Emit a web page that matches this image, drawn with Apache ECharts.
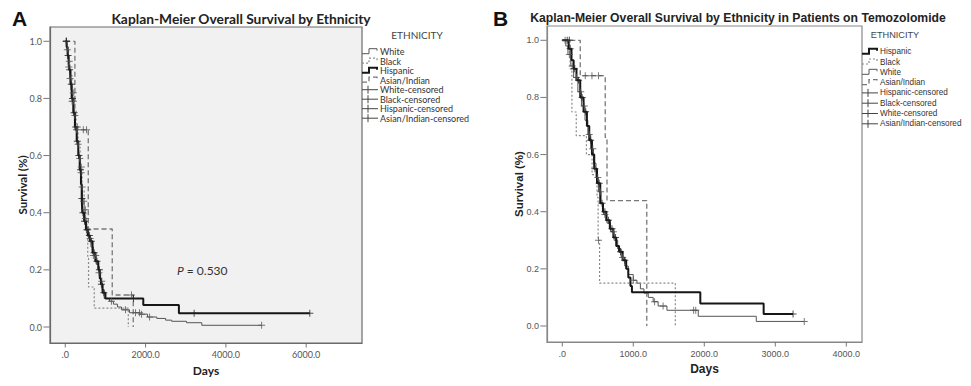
<!DOCTYPE html>
<html>
<head>
<meta charset="utf-8">
<script src="https://cdn.jsdelivr.net/npm/echarts@6/dist/echarts.min.js"></script>
<style>
  html, body { margin: 0; padding: 0; background: #fff; }
  #chart { width: 971px; height: 386px; }
</style>
</head>
<body>
<div id="chart"></div>
<script>
// ---- data ----
const survTicks = [0, 0.2, 0.4, 0.6, 0.8, 1.0];
const survLabels = ['0.0', '0.2', '0.4', '0.6', '0.8', '1.0'];

const daysTicksA = [0, 2000, 4000, 6000];
const daysLabelsA = ['.0', '2000.0', '4000.0', '6000.0'];
const daysTicksB = [0, 1000, 2000, 3000, 4000];
const daysLabelsB = ['.0', '1000.0', '2000.0', '3000.0', '4000.0'];

const legendA = ['White', 'Black', 'Hispanic', 'Asian/Indian',
  'White-censored', 'Black-censored', 'Hispanic-censored', 'Asian/Indian-censored'];
const legendB = ['Hispanic', 'Black', 'White', 'Asian/Indian',
  'Hispanic-censored', 'Black-censored', 'White-censored', 'Asian/Indian-censored'];

// panel A: [days, survival]
const hispanicA = [[0, 1], [35, 0.98], [60, 0.95], [85, 0.92], [100, 0.9], [130, 0.85], [160, 0.8],
  [200, 0.75], [241, 0.7], [285, 0.65], [324, 0.6], [360, 0.55], [391, 0.5], [410, 0.45], [424, 0.4],
  [470, 0.37], [515, 0.34], [560, 0.32], [615, 0.3], [680, 0.26], [750, 0.23], [822, 0.2], [860, 0.17],
  [889, 0.15], [930, 0.12], [1000, 0.1], [1943, 0.077], [2830, 0.048], [6090, 0.048]];
const whiteA = [[0, 1], [30, 0.97], [55, 0.94], [80, 0.91], [110, 0.87], [140, 0.83], [170, 0.79],
  [210, 0.74], [250, 0.69], [290, 0.64], [330, 0.59], [370, 0.54], [400, 0.49], [430, 0.44], [470, 0.38],
  [520, 0.34], [580, 0.31], [640, 0.28], [700, 0.25], [770, 0.22], [830, 0.19], [880, 0.16], [920, 0.13],
  [970, 0.1], [1100, 0.09], [1200, 0.08], [1300, 0.07], [1400, 0.06], [1600, 0.05], [1860, 0.045],
  [2050, 0.035], [2280, 0.03], [2500, 0.024], [2650, 0.02], [3020, 0.015], [3400, 0.006], [4890, 0.006]];
const blackA = [[0, 1], [40, 0.97], [80, 0.93], [120, 0.88], [170, 0.82], [220, 0.76], [270, 0.7],
  [320, 0.63], [370, 0.56], [420, 0.48], [470, 0.41], [510, 0.36], [540, 0.33], [560, 0.24], [580, 0.14],
  [722, 0.066], [1570, 0], [1570, 0]];
const asianA = [[0, 1], [240, 0.69], [573, 0.343], [1170, 0.112], [1693, 0], [1693, 0]];

const hispanicCensA = [30, 70, 110, 150, 180, 220, 260, 300, 340, 380, 415, 440, 480, 540, 600, 650,
  720, 790, 850, 900, 960, 1700, 3210, 6090];
const whiteCensA = [20, 50, 90, 120, 170, 200, 240, 280, 320, 360, 395, 420, 460, 500, 560, 620, 700,
  760, 840, 910, 1150, 1500, 1750, 1850, 1900, 2100, 4890];
const blackCensA = [30, 100, 200, 300, 400, 500];
const asianCensA = [450, 530, 1650];

// panel B: [days, survival]
const hispanicB = [[0, 1], [60, 1], [90, 0.97], [130, 0.93], [160, 0.9], [200, 0.86], [253, 0.8],
  [300, 0.75], [347, 0.7], [380, 0.65], [418, 0.6], [450, 0.55], [489, 0.5], [535, 0.43], [573, 0.4],
  [620, 0.37], [670, 0.34], [720, 0.31], [760, 0.28], [800, 0.26], [850, 0.23], [900, 0.2], [930, 0.17],
  [960, 0.14], [981, 0.118], [1944, 0.079], [2836, 0.042], [3250, 0.042]];
const whiteB = [[0, 1], [50, 0.98], [80, 0.95], [120, 0.91], [160, 0.87], [220, 0.82], [270, 0.77],
  [320, 0.72], [360, 0.67], [400, 0.62], [440, 0.57], [475, 0.52], [510, 0.47], [545, 0.43], [580, 0.39],
  [630, 0.36], [680, 0.33], [730, 0.3], [780, 0.27], [830, 0.24], [880, 0.21], [930, 0.18], [1000, 0.16],
  [1052, 0.15], [1100, 0.13], [1150, 0.115], [1211, 0.1], [1280, 0.085], [1350, 0.07], [1474, 0.055],
  [1915, 0.034], [2732, 0.016], [3408, 0.016]];
const blackB = [[0, 1], [80, 1], [110, 0.9], [136, 0.749], [197, 0.666], [340, 0.6], [420, 0.53],
  [490, 0.45], [505, 0.3], [525, 0.15], [1592, 0], [1592, 0]];
const asianB = [[0, 1], [253, 0.876], [605, 0.66], [630, 0.439], [1190, 0], [1190, 0]];

const hispanicCensB = [70, 110, 170, 230, 280, 330, 400, 460, 520, 560, 600, 650, 700, 750, 820, 880, 3250];
const whiteCensB = [40, 100, 140, 200, 260, 310, 380, 430, 500, 540, 600, 720, 850, 1000, 1300, 1420,
  1850, 1880, 3408];
const blackCensB = [100, 510];
const asianCensB = [100, 324, 418, 511];

const pValueA = '0.530';

// axis ranges
const survMin = -0.056, survMax = 1.05;
const daysRangeA = [-380, 7390];
const daysRangeB = [-215, 4221];

// ---- styles ----
const styles = {
  Hispanic: { color: '#161616', width: 2, type: 'solid' },
  White: { color: '#555', width: 1, type: 'solid' },
  Black: { color: '#8a8a8a', width: 1.2, type: [2, 2] },
  'Asian/Indian': { color: '#777', width: 1.3, type: [5, 3] }
};
const plusIcon = 'path://M4.3,0H5.7V10H4.3Z M0,4.3H10V5.7H0Z';

function valueAt(curve, d) {
  let v = curve[0][1];
  for (const p of curve) if (p[0] <= d) v = p[1];
  return v;
}

function panelSeries(idx, curves, cens) {
  const out = [];
  Object.keys(curves).forEach(name => {
    const s = styles[name];
    out.push({
      name, type: 'line', step: 'end', xAxisIndex: idx, yAxisIndex: idx,
      data: curves[name], showSymbol: false, silent: true, z: name === 'Hispanic' ? 4 : 3,
      lineStyle: { color: s.color, width: s.width, type: s.type }
    });
    out.push({
      name: name + '-censored', type: 'scatter', xAxisIndex: idx, yAxisIndex: idx,
      data: cens[name].map(d => [d, valueAt(curves[name], d)]),
      symbol: plusIcon, symbolSize: 7, silent: true, z: 5,
      itemStyle: { color: name === 'Hispanic' ? '#222' : '#555' }
    });
  });
  return out;
}

// outward tick marks, placed through the axes at the tick values
function tickSeries(idx, daysTicks, daysMin) {
  return [
    {
      type: 'scatter', xAxisIndex: idx, yAxisIndex: idx, clip: false, silent: true, z: 6,
      data: survTicks.map(v => [daysMin, v]),
      symbol: 'rect', symbolSize: [6, 1], symbolOffset: [-3.6, 0], itemStyle: { color: '#555' }
    },
    {
      type: 'scatter', xAxisIndex: idx, yAxisIndex: idx, clip: false, silent: true, z: 6,
      data: daysTicks.map(v => [v, survMin]),
      symbol: 'rect', symbolSize: [1, 4], symbolOffset: [0, 2.6], itemStyle: { color: '#555' }
    }
  ];
}

function xAxisFor(idx, range, ticks, labels, font, lineColor) {
  return {
    type: 'value', gridIndex: idx, min: range[0], max: range[1], position: 'bottom',
    name: 'Days', nameLocation: 'middle', nameGap: 21, nameMoveOverlap: false,
    nameTextStyle: { fontFamily: font, fontWeight: 'bold', fontSize: 12, color: '#222' },
    axisLine: { show: true, onZero: false, lineStyle: { color: lineColor, width: 1.2 } },
    axisTick: { show: false },
    axisLabel: {
      customValues: ticks, margin: 7, fontSize: 9, color: '#555', fontFamily: font,
      formatter: v => labels[ticks.indexOf(v)]
    },
    splitLine: { show: false }
  };
}

function yAxisFor(idx, font, lineColor) {
  return {
    type: 'value', gridIndex: idx, min: survMin, max: survMax, position: 'left',
    name: 'Survival (%)', nameLocation: 'middle', nameGap: 22, nameMoveOverlap: false,
    nameTextStyle: { fontFamily: font, fontWeight: 'bold', fontSize: 11.5, color: '#222' },
    axisLine: { show: true, onZero: false, lineStyle: { color: lineColor, width: 1.2 } },
    axisTick: { show: false },
    axisLabel: {
      customValues: survTicks, margin: 8, fontSize: 9, color: '#555', fontFamily: font,
      formatter: v => survLabels[survTicks.indexOf(Math.round(v * 10) / 10)]
    },
    splitLine: { show: false }
  };
}

function legendGraphics(names, x0, titleX, y0, step, font, fontSize, titleSize) {
  const g = [{
    type: 'text', x: titleX, y: 35,
    style: { text: 'ETHNICITY', font: `${titleSize}px ${font}`, fill: '#444', align: 'center', verticalAlign: 'middle' }
  }];
  names.forEach((n, i) => {
    const y = y0 + i * step;
    const base = n.replace('-censored', '');
    const s = styles[base];
    if (n.endsWith('-censored')) {
      g.push({ type: 'polyline', shape: { points: [[x0, y], [x0 + 16, y]] }, style: { stroke: '#444', lineWidth: 1 } });
      g.push({ type: 'polyline', shape: { points: [[x0 + 6, y - 4], [x0 + 6, y + 4]] }, style: { stroke: '#444', lineWidth: 1 } });
    } else {
      g.push({
        type: 'polyline',
        shape: { points: [[x0, y + 2], [x0 + 7, y + 2], [x0 + 7, y - 3], [x0 + 15, y - 3], [x0 + 15, y - 1]] },
        style: { stroke: s.color, lineWidth: s.width, lineDash: s.type === 'solid' ? null : s.type, fill: null }
      });
    }
    g.push({
      type: 'text', x: x0 + 18, y,
      style: { text: n, font: `${fontSize}px ${font}`, fill: '#333', verticalAlign: 'middle' }
    });
  });
  return g;
}

const fontA = 'Lato, "Open Sans", sans-serif';
const fontB = '"Liberation Sans", Arial, sans-serif';

const chart = echarts.init(document.getElementById('chart'), null, { renderer: 'svg' });

const option = {
  animation: false,
  backgroundColor: '#fff',
  grid: [
    { left: 50, top: 27, width: 312, height: 316, show: true, backgroundColor: '#f1f1f1',
      borderColor: '#6a6a6a', borderWidth: 1.2, containLabel: false, outerBoundsMode: 'none' },
    { left: 547, top: 26, width: 315, height: 316, show: true, backgroundColor: '#fff',
      borderColor: '#888', borderWidth: 1.2, containLabel: false, outerBoundsMode: 'none' }
  ],
  xAxis: [
    xAxisFor(0, daysRangeA, daysTicksA, daysLabelsA, fontA, '#6a6a6a'),
    xAxisFor(1, daysRangeB, daysTicksB, daysLabelsB, fontB, '#888')
  ],
  yAxis: [yAxisFor(0, fontA, '#6a6a6a'), yAxisFor(1, fontB, '#888')],
  series: [
    ...panelSeries(0,
      { White: whiteA, Black: blackA, 'Asian/Indian': asianA, Hispanic: hispanicA },
      { White: whiteCensA, Black: blackCensA, 'Asian/Indian': asianCensA, Hispanic: hispanicCensA }),
    ...panelSeries(1,
      { White: whiteB, Black: blackB, 'Asian/Indian': asianB, Hispanic: hispanicB },
      { White: whiteCensB, Black: blackCensB, 'Asian/Indian': asianCensB, Hispanic: hispanicCensB }),
    ...tickSeries(0, daysTicksA, daysRangeA[0]),
    ...tickSeries(1, daysTicksB, daysRangeB[0])
  ],
  graphic: [
    { type: 'text', x: 12, y: 8, style: { text: 'A', font: 'bold 21px "Liberation Sans", Arial, sans-serif', fill: '#111' } },
    { type: 'text', x: 493, y: 8, style: { text: 'B', font: 'bold 21px "Liberation Sans", Arial, sans-serif', fill: '#111' } },
    { type: 'text', x: 241, y: 18, style: { text: 'Kaplan-Meier Overall Survival by Ethnicity',
        font: `bold 13.8px ${fontA}`, fill: '#222', align: 'center', verticalAlign: 'middle' } },
    { type: 'text', x: 738, y: 18, style: { text: 'Kaplan-Meier Overall Survival by Ethnicity in Patients on Temozolomide',
        font: `bold 12.2px ${fontB}`, fill: '#222', align: 'center', verticalAlign: 'middle' } },
    { type: 'text', x: 177, y: 270, style: {
        text: '{i|P} = ' + pValueA,
        font: `12px ${fontA}`, fill: '#333', verticalAlign: 'middle',
        rich: { i: { fontStyle: 'italic', fontSize: 12, fontFamily: fontA, fill: '#333' } } } },
    ...legendGraphics(legendA, 362, 417, 51.7, 9.5, fontA, 9, 10),
    ...legendGraphics(legendB, 862, 895, 51.7, 10.3, fontB, 8.2, 9.2)
  ]
};

chart.setOption(option);
</script>
</body>
</html>
